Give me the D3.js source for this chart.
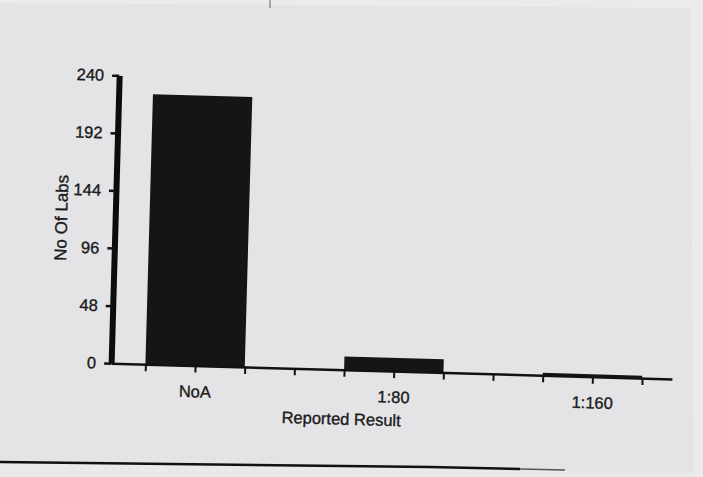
<!DOCTYPE html>
<html>
<head>
<meta charset="utf-8">
<script src="https://cdn.jsdelivr.net/npm/d3@7"></script>
<style>
  html, body { margin: 0; padding: 0; background: #f2f2f2; }
  svg { display: block; }
  text { font-family: "Liberation Sans", Arial, sans-serif; fill: #1a1a1a; stroke: #1a1a1a; stroke-width: 0.35px; }
</style>
</head>
<body>
<svg id="chart" width="703" height="477"></svg>
<script>
// ---- data ----
const categories = ["NoA", "1:80", "1:160"];
const catPos = [1, 3, 5];
const values = [225, 11, 2];
const yTicks = [0, 48, 96, 144, 192, 240];
const minorTicks = [0.5, 1, 1.5, 2, 2.5, 3, 3.5, 4, 4.5, 5, 5.5];
const xTitle = "Reported Result";
const yTitle = "No Of Labs";

const svg = d3.select("#chart");

// scanned-paper background
svg.append("rect").attr("x", 0).attr("y", 0).attr("width", 703).attr("height", 477).attr("fill", "#ebebec");
svg.append("path")
  .attr("d", "M0,3 L690,8 L694,477 L0,477 Z")
  .attr("fill", "#e4e4e7");
svg.append("path")
  .attr("d", "M0,463 L430,468 L560,471 L694,472 L694,477 L0,477 Z")
  .attr("fill", "#e9e9ea");
svg.append("line").attr("x1", 270).attr("y1", 0).attr("x2", 270).attr("y2", 8)
  .attr("stroke", "#666").attr("stroke-width", 1);
// bottom page edge line
svg.append("path")
  .attr("d", "M0,462 L430,467 L520,469")
  .attr("fill", "none").attr("stroke", "#111").attr("stroke-width", 2.5);
svg.append("path")
  .attr("d", "M520,469 L565,470")
  .attr("fill", "none").attr("stroke", "#555").attr("stroke-width", 1.5);

const g = svg.append("g").attr("transform", "rotate(1.6,390,372)");

const x = d3.scaleLinear().domain([0.155, 5.8]).range([111, 672]);
const y = d3.scaleLinear().domain([0, 240]).range([371, 83]);

// bars
g.selectAll("rect.bar").data(values).join("rect")
  .attr("class", "bar")
  .attr("x", (d, i) => x(catPos[i] - 0.5))
  .attr("width", (d, i) => x(catPos[i] + 0.5) - x(catPos[i] - 0.5))
  .attr("y", d => y(d))
  .attr("height", d => y(0) - y(d))
  .attr("fill", "#151515");

// x axis: minor ticks
const xMinor = g.append("g").attr("transform", `translate(0,${y(0)})`)
  .call(d3.axisBottom(x).tickValues(minorTicks).tickFormat("").tickSize(7).tickSizeOuter(0));
xMinor.select(".domain").attr("stroke", "#111").attr("stroke-width", 2.5);
xMinor.selectAll(".tick line").attr("stroke", "#111").attr("stroke-width", 2);

// x axis labels
const xLab = g.append("g").attr("transform", `translate(0,${y(0)})`)
  .call(d3.axisBottom(x).tickValues(catPos).tickFormat((d, i) => categories[i]).tickSize(0).tickPadding(20));
xLab.select(".domain").remove();
xLab.selectAll("text").attr("font-size", 16.5).attr("fill", "#1a1a1a")
  .attr("font-family", "'Liberation Sans', Arial, sans-serif");

// y axis
const yAx = g.append("g").attr("transform", `translate(${x(0.155)},0)`)
  .call(d3.axisLeft(y).tickValues(yTicks).tickSize(7).tickSizeOuter(0).tickPadding(8));
yAx.select(".domain").attr("stroke", "#0c0c0c").attr("stroke-width", 6);
yAx.selectAll(".tick line").attr("stroke", "#111").attr("stroke-width", 2.5);
yAx.selectAll("text").attr("font-size", 16.5).attr("fill", "#1a1a1a")
  .attr("font-family", "'Liberation Sans', Arial, sans-serif");

// titles
g.append("text")
  .attr("x", (x(0.155) + x(5.8)) / 2 - 49)
  .attr("y", 426)
  .attr("text-anchor", "middle")
  .attr("font-size", 16.5)
  .text(xTitle);

g.append("text")
  .attr("transform", "translate(63,227) rotate(-90)")
  .attr("text-anchor", "middle")
  .attr("font-size", 17)
  .text(yTitle);
</script>
</body>
</html>
